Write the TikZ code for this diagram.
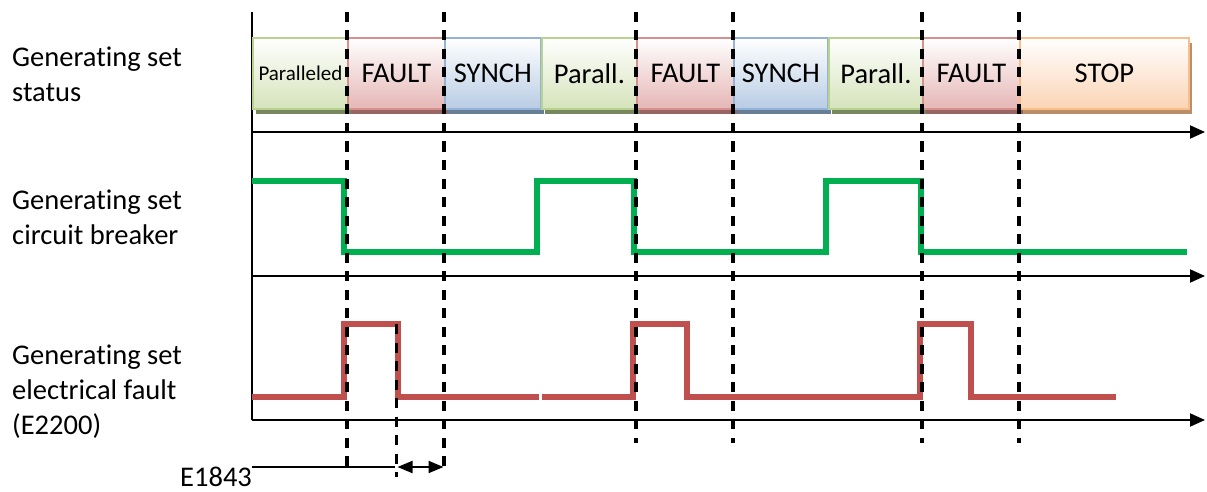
\documentclass[tikz,border=0pt]{standalone}
\usepackage{fontspec}
\setmainfont{Carlito}[Ligatures={NoCommon,NoRare,NoContextual}]
\usetikzlibrary{arrows.meta,shadows}
\definecolor{grB}{RGB}{185,210,145}
\definecolor{grF}{RGB}{213,227,186}
\definecolor{rdB}{RGB}{214,145,143}
\definecolor{rdF}{RGB}{229,182,181}
\definecolor{blB}{RGB}{149,179,215}
\definecolor{blF}{RGB}{184,204,228}
\definecolor{orB}{RGB}{248,190,140}
\definecolor{orF}{RGB}{251,212,180}
\definecolor{sigG}{RGB}{0,176,80}
\definecolor{sigR}{RGB}{192,80,77}
\tikzset{
  lbl/.style={anchor=north west,inner sep=0pt,align=left,font=\fontsize{28.5}{35}\selectfont},
  stbox/.style={anchor=north west,minimum height=71pt,inner sep=0pt,line width=1.8pt,
     font=\fontsize{28.5}{34}\selectfont},
  stgreen/.style={stbox,draw=grB,top color=white,bottom color=grF,
     drop shadow={shadow xshift=3pt,shadow yshift=-5pt,fill=black!35!grB,opacity=1}},
  stred/.style={stbox,draw=rdB,top color=white,bottom color=rdF,
     drop shadow={shadow xshift=3pt,shadow yshift=-5pt,fill=black!30!rdB,opacity=1}},
  stblue/.style={stbox,draw=blB,top color=white,bottom color=blF,
     drop shadow={shadow xshift=3pt,shadow yshift=-5pt,fill=black!30!blB,opacity=1}},
  storange/.style={stbox,draw=orB,top color=white,bottom color=orF,
     drop shadow={shadow xshift=3pt,shadow yshift=-5pt,fill=black!25!orB,opacity=1}},
  axis/.style={line width=2pt,-{Triangle[length=15pt,width=13pt]}},
  vaxis/.style={line width=2pt},
  markline/.style={line width=3.5pt,dash pattern=on 10pt off 8.5pt},
  sigline/.style={line width=6pt,line join=miter},
  dimarrow/.style={line width=2pt,{Triangle[length=15pt,width=12pt]}-{Triangle[length=15pt,width=12pt]}},
}
\begin{document}
\begin{tikzpicture}[x=1pt,y=-1pt]
\useasboundingbox (0,0) rectangle (1207,492);
% labels
\node[lbl] (l1) at (12,47) {Generating set\\status};
\node[lbl] (l2) at (12,190) {Generating set\\circuit breaker};
\node[lbl] (l3) at (12,345) {Generating set\\electrical fault\\(E2200)};
% axes coordinates
\coordinate (vtop) at (252,12);
\coordinate (a1s) at (252,132); \coordinate (a1e) at (1205,132);
\coordinate (a2s) at (252,276); \coordinate (a2e) at (1205,276);
\coordinate (a3s) at (252,420); \coordinate (a3e) at (1205,420);
\draw[vaxis] (vtop) -- (a3s);
% status boxes
\node[stgreen,minimum width=95pt] (s1) at (252,37) {\fontsize{21}{25}\selectfont Paralleled};
\node[stred,minimum width=97pt] (s2) at (347,37) {FAULT};
\node[stblue,minimum width=96pt] (s3) at (444,37) {SYNCH};
\node[stgreen,minimum width=95pt] (s4) at (541,37) {Parall.};
\node[stred,minimum width=97pt] (s5) at (636,37) {FAULT};
\node[stblue,minimum width=94pt] (s6) at (733,37) {SYNCH};
\node[stgreen,minimum width=94pt] (s7) at (828,37) {Parall.};
\node[stred,minimum width=97pt] (s8) at (922,37) {FAULT};
\node[storange,minimum width=169pt] (s9) at (1019,37) {STOP};
% time axes
\draw[axis] (a1s) -- (a1e);
\draw[axis] (a2s) -- (a2e);
\draw[axis] (a3s) -- (a3e);
% circuit breaker signal
\draw[sigline,sigG] (252,180.7) -- (344,180.7) -- (344,252) -- (537,252) -- (537,180.7)
  -- (633.5,180.7) -- (633.5,252) -- (826,252) -- (826,180.7) -- (920.7,180.7)
  -- (920.7,252) -- (1187,252);
% electrical fault signal
\draw[sigline,sigR] (252,396.7) -- (343.5,396.7) -- (343.5,324.3) -- (398.3,324.3)
  -- (398.3,396.7) -- (538.5,396.7);
\draw[sigline,sigR] (541.5,396.7) -- (633.3,396.7) -- (633.3,324.3) -- (687.3,324.3)
  -- (687.3,396.7) -- (920,396.7) -- (920,324.3) -- (970.7,324.3) -- (970.7,396.7)
  -- (1116,396.7);
% dashed markers
\coordinate (d1t) at (347,12);  \coordinate (d1b) at (347,467);
\coordinate (d2t) at (444,12);  \coordinate (d2b) at (444,467);
\coordinate (d3t) at (636,12);  \coordinate (d3b) at (636,443);
\coordinate (d4t) at (733,12);  \coordinate (d4b) at (733,443);
\coordinate (d5t) at (922,12);  \coordinate (d5b) at (922,443);
\coordinate (d6t) at (1019,12); \coordinate (d6b) at (1019,443);
\coordinate (e1t) at (396.5,324); \coordinate (e1b) at (396.5,477);
\foreach \ptop/\pbot in {d1t/d1b,d2t/d2b,d3t/d3b,d4t/d4b,d5t/d5b,d6t/d6b,e1t/e1b}
  \draw[markline] (\ptop) -- (\pbot);
% E1843
\node[anchor=base west,inner sep=0pt,font=\fontsize{28.5}{34}\selectfont] (e1843) at (180,486) {E1843};
\coordinate (eL) at (252,467); \coordinate (eR) at (395,467);
\draw[line width=2pt] (eL) -- (eR);
\coordinate (dA) at (397.5,467); \coordinate (dB) at (443.5,467);
\draw[dimarrow] (dA) -- (dB);
\end{tikzpicture}
\end{document}
